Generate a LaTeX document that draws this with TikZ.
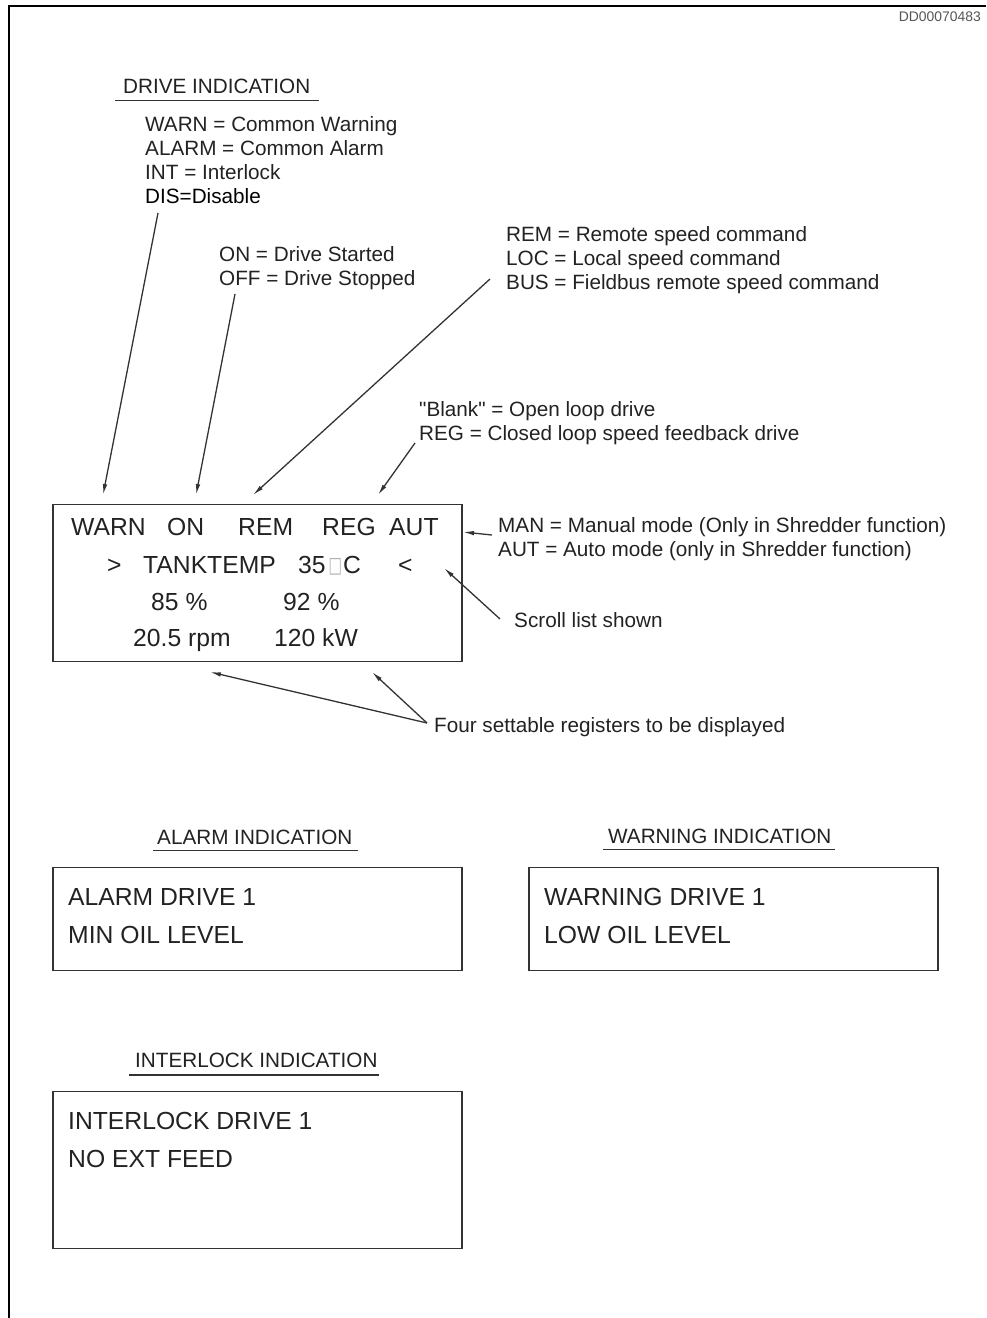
\documentclass[tikz,border=0pt]{standalone}
\usepackage{fontspec}
\setmainfont{Liberation Sans}
\newfontfamily\dejavufont{DejaVu Sans}
\usetikzlibrary{arrows.meta}
\newcommand\straightquote{\XeTeXglyph\XeTeXcharglyph"22\relax}
\definecolor{ink}{HTML}{222222}
\definecolor{linec}{HTML}{333333}
\definecolor{idgray}{HTML}{555555}
\begin{document}
\begin{tikzpicture}[x=1pt,y=-1pt,
  lbl/.style={anchor=base west,inner sep=0pt,text=ink,font=\fontsize{20.7}{24}\selectfont},
  disp/.style={anchor=base west,inner sep=0pt,text=ink,font=\fontsize{24.7}{29}\selectfont},
  screen/.style={draw=linec,line width=1.6pt,anchor=north west,inner sep=0pt},
  ptr/.style={draw=linec,line width=1.3pt,-{Latex[length=11pt,width=4.5pt]}},
  uline/.style={draw=linec,line width=1.4pt},
  frameline/.style={draw=black,line width=1.5pt}]
\useasboundingbox (0,0) rectangle (986,1318);
% outer frame (top and left only)
\draw[frameline] (986,6) -- (9,6) -- (9,1318);
\node[anchor=base east,inner sep=0pt,text=idgray,font=\fontsize{13.9}{16}\selectfont] (docid) at (981,21) {DD00070483};

% ---------- Drive indication legend ----------
\node[lbl] (drvtitle) at (123,93.3) {DRIVE INDICATION};
\draw[uline] (115,100.7) -- (319,100.7);
\node[lbl] (lwarn) at (145,131) {WARN = Common Warning};
\node[lbl] (lalarm) at (145,155) {ALARM = Common Alarm};
\node[lbl] (lint) at (145,179) {INT = Interlock};
\node[lbl,text=black] (ldis) at (145,203) {DIS=Disable};

\node[lbl] (lon) at (219,261) {ON = Drive Started};
\node[lbl] (loff) at (219,285) {OFF = Drive Stopped};

\node[lbl] (lrem) at (506,241) {REM = Remote speed command};
\node[lbl] (lloc) at (506,265) {LOC = Local speed command};
\node[lbl] (lbus) at (506,289) {BUS = Fieldbus remote speed command};

\node[lbl] (lblank) at (419,416) {\straightquote Blank\straightquote{} = Open loop drive};
\node[lbl] (lreg) at (419,440) {REG = Closed loop speed feedback drive};

\node[lbl] (lman) at (498,532) {MAN = Manual mode (Only in Shredder function)};
\node[lbl] (laut) at (498,556) {AUT = Auto mode (only in Shredder function)};

\node[lbl] (lscroll) at (514,627) {Scroll list shown};
\node[lbl] (lfour) at (434,732) {Four settable registers to be displayed};

% ---------- main display ----------
\node[screen,minimum width=409pt,minimum height=157pt] (mainbox) at (52,503.5) {};
\node[disp] (dwarn) at (71,535.7) {WARN};
\node[disp] (don) at (167,535.7) {ON};
\node[disp] (drem) at (238,535.7) {REM};
\node[disp] (dreg) at (322,535.7) {REG};
\node[disp] (daut) at (389,535.7) {AUT};
\node[disp] (dgt) at (107,573.3) {>};
\node[disp] (dtank) at (143,573.3) {TANKTEMP};
\node[disp] (d35) at (298,573.3) {35};
\node[anchor=base west,inner sep=0pt,text=gray!60,font=\dejavufont\fontsize{19}{22}\selectfont] (dbox) at (328.5,572.5) {\scalebox{0.75}[1.15]{□}};
\node[disp] (dc) at (343,573.3) {C};
\node[disp] (dlt) at (398,573.3) {<};
\node[disp] (d85) at (151,610.5) {85 \%};
\node[disp] (d92) at (283,610.5) {92 \%};
\node[disp] (drpm) at (133,646) {20.5 rpm};
\node[disp] (dkw) at (274,646) {120 kW};

% ---------- pointers ----------
\coordinate (s1) at (158,213);  \coordinate (t1) at (103,495);
\coordinate (s2) at (235,294);  \coordinate (t2) at (196,495);
\coordinate (s3) at (490,279);  \coordinate (t3) at (253,495);
\coordinate (s4) at (415,443);  \coordinate (t4) at (378,495);
\coordinate (s5) at (492,535);  \coordinate (t5) at (463,532);
\coordinate (s6) at (500,619);  \coordinate (t6) at (444,568);
\coordinate (s7) at (427,723);  \coordinate (t7) at (210,672);
\coordinate (t8) at (372,672);
\draw[ptr] (s1) -- (t1);
\draw[ptr] (s2) -- (t2);
\draw[ptr] (s3) -- (t3);
\draw[ptr] (s4) -- (t4);
\draw[ptr] (s5) -- (t5);
\draw[ptr] (s6) -- (t6);
\draw[ptr] (s7) -- (t7);
\draw[ptr] (s7) -- (t8);

% ---------- alarm indication ----------
\node[lbl] (alarmtitle) at (157,844.5) {ALARM INDICATION};
\draw[uline] (153,850.5) -- (358,850.5);
\node[screen,minimum width=409pt,minimum height=103pt] (alarmbox) at (52,866.5) {};
\node[disp] (al1) at (68,905) {ALARM DRIVE 1};
\node[disp] (al2) at (68,943) {MIN OIL LEVEL};

% ---------- warning indication ----------
\node[lbl] (warntitle) at (608,843) {WARNING INDICATION};
\draw[uline] (603,849.5) -- (835,849.5);
\node[screen,minimum width=409pt,minimum height=103pt] (warnbox) at (528,866.5) {};
\node[disp] (wa1) at (544,905) {WARNING DRIVE 1};
\node[disp] (wa2) at (544,943) {LOW OIL LEVEL};

% ---------- interlock indication ----------
\node[lbl] (inttitle) at (135,1067) {INTERLOCK INDICATION};
\draw[uline] (129,1075) -- (379,1075);
\node[screen,minimum width=409pt,minimum height=157pt] (intbox) at (52,1090.5) {};
\node[disp] (in1) at (68,1129) {INTERLOCK DRIVE 1};
\node[disp] (in2) at (68,1167) {NO EXT FEED};
\end{tikzpicture}
\end{document}
